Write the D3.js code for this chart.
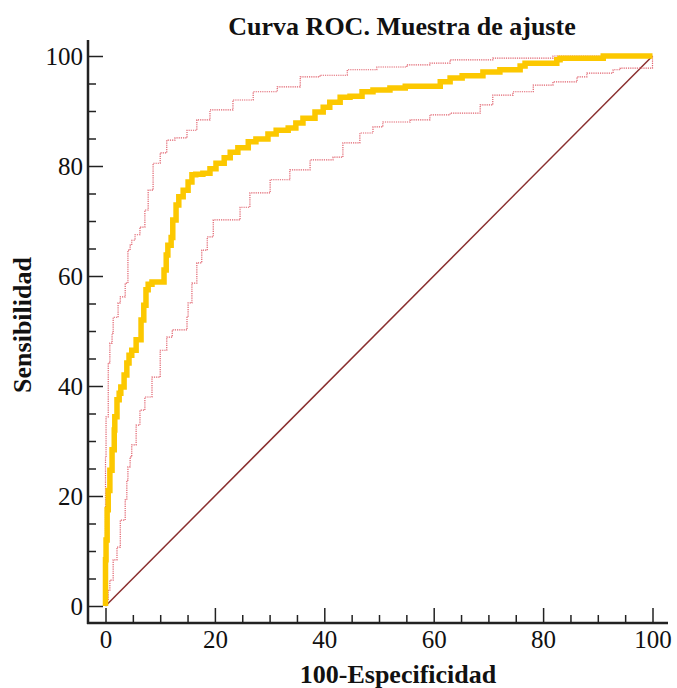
<!doctype html>
<html lang="es">

<head>
  <meta charset="utf-8">
  <title>Curva ROC. Muestra de ajuste</title>
  <style>
    body {
      margin: 0;
      background: #fff;
    }

    #chart text {
      font-family: "Liberation Serif", "Times New Roman", serif;
      fill: #111;
    }

    .tick text {
      font-size: 25px;
    }

    .titulo {
      font-size: 26px;
      font-weight: bold;
    }
  </style>
</head>

<body>
  <div id="chart"></div>

  <script src="https://d3js.org/d3.v7.min.js"></script>
  <script>
// curva ROC (100-especificidad, sensibilidad)
const rocX = [0, 0.1, 0.3, 0.5, 0.8, 1.2, 1.6, 1.7, 2.1, 2.5, 2.8, 3.4, 3.9, 4.3, 4.8, 5.6, 6.5, 7.0, 7.4, 7.8,
  8.5, 9.6, 10.7, 11.1, 11.4, 12.0, 12.3, 12.9, 13.4, 14.2, 15.1, 15.8, 16.5, 17.8, 19.1, 20.2, 21.7, 22.8, 24.2,
  26.1, 27.5, 29.7, 31.2, 33.4, 34.8, 36.1, 38.3, 39.8, 41.0, 42.9, 44.7, 46.9, 48.9, 52.0, 54.8, 57.5, 61.2,
  63.0, 65.2, 69.0, 72.1, 75.8, 76.7, 82.5, 83.1, 91.0, 91.3, 100];
const rocY = [0, 8.4, 12, 17.5, 21, 24.7, 28.4, 32, 34.4, 37.5, 38.7, 39.8, 42, 44.2, 45.6, 46.5, 48.4, 52, 54.7, 57.5,
  58.5, 58.9, 58.9, 61.1, 63.8, 65.6, 67, 70.2, 72.9, 74.4, 75.6, 77.1, 78.4, 78.5, 78.7, 79.5, 80.5, 81.5, 82.5,
  83.3, 84.4, 84.9, 85.8, 86.5, 86.9, 87.8, 88.7, 89.8, 90.7, 91.6, 92.5, 92.7, 93.5, 93.8, 94.2, 94.5, 94.5,
  95.3, 96.0, 96.4, 97.1, 97.5, 98.2, 98.7, 99.3, 99.6, 100, 100];

// limite superior del intervalo de confianza
const supX = [0, 0, 0.1, 0.5, 0.8, 1.2, 1.4, 2.3, 2.7, 3.6, 4.1, 4.5, 4.8, 5.4, 6.3, 7.2, 7.8, 8.7, 10.0, 11.2,
  12.7, 14.9, 16.7, 19.1, 23.3, 27.0, 31.4, 35.6, 39.2, 44.2, 49.6, 55.1, 59.3, 63.0, 70.8, 81.8, 91.0, 100];
const supY = [0, 22.9, 27.1, 34.4, 44.2, 47.8, 49.6, 52.5, 55.1, 56.2, 58.7, 64.7, 65.6, 66.5, 67.5, 68.9, 72, 75.6,
  80.5, 82.4, 84.7, 85.1, 86.5, 88.4, 90.2, 92, 93.5, 94.4, 96.2, 96.5, 97.5, 98, 98.4, 98.7, 99.3, 99.6, 100, 100];

// limite inferior del intervalo de confianza
const infX = [0, 0.5, 0.8, 1.4, 2.1, 2.7, 3.6, 3.9, 4.1, 4.5, 4.8, 5.6, 6.3, 7.2, 8.5, 10.0, 11.2, 12.2, 14.9, 15.1,
  15.8, 16.7, 17.6, 18.6, 19.7, 21.5, 24.6, 26.4, 30.1, 33.7, 37.4, 41.6, 43.4, 46.5, 48.9, 50.7, 55.7, 59.3,
  63.0, 68.5, 70.8, 74.5, 78.2, 81.8, 86.2, 88.0, 92.8, 94.1, 100, 100];
const infY = [0, 1.1, 2.9, 4.7, 8.4, 10.7, 15.6, 19.3, 22.9, 25.3, 27.1, 29.3, 32.9, 35.6, 38, 41.6, 46.5, 48.9, 50.2,
  52.5, 55.1, 58.7, 62.4, 64.7, 67.1, 70.2, 70.2, 72.5, 75.1, 77.5, 79.3, 81.1, 81.6, 84.2, 86, 87.1, 88, 88.4,
  89.3, 89.6, 91.1, 92.9, 93.5, 94.7, 95.3, 96.2, 96.9, 97.5, 97.8, 100];

// diagonal de referencia
const diagX = [0, 100];
const diagY = [0, 100];

const majorTicks = [0, 20, 40, 60, 80, 100];
const minorTicks = d3.range(0, 101, 5).filter(v => v % 20 !== 0);

const width = 677;
const height = 688;

const svg = d3.select('#chart') // el svg ocupa toda la ventana
  .append('svg')
  .attr('width', width)
  .attr('height', height);

const x = d3.scaleLinear().domain([0, 100]).range([105.5, 652.5]);
const y = d3.scaleLinear().domain([0, 100]).range([606, 56]);

const axisX = 88;   // posicion de la linea del eje vertical
const axisY = 623;  // posicion de la linea del eje horizontal

// diagonal
svg.append('path')
  .datum(d3.zip(diagX, diagY))
  .attr('d', d3.line().x(d => x(d[0])).y(d => y(d[1])))
  .attr('fill', 'none')
  .attr('stroke', '#8a2f2f')
  .attr('stroke-width', 1.5);

const stepLine = d3.line()
  .x(d => x(d[0]))
  .y(d => y(d[1]))
  .curve(d3.curveStepBefore);

// bandas de confianza punteadas
[[supX, supY], [infX, infY]].forEach(([xs, ys]) => {
  svg.append('path')
    .datum(d3.zip(xs, ys))
    .attr('d', stepLine)
    .attr('fill', 'none')
    .attr('stroke', '#e0606c')
    .attr('stroke-width', 1.2)
    .attr('stroke-dasharray', '1.2 1');
});

// curva ROC
svg.append('path')
  .datum(d3.zip(rocX, rocY))
  .attr('d', stepLine)
  .attr('fill', 'none')
  .attr('stroke', '#fcc800')
  .attr('stroke-width', 5.5)
  .attr('stroke-linejoin', 'miter');

// ejes: marcas principales hacia dentro
svg.append('g')
  .attr('transform', `translate(${axisX},0)`)
  .call(d3.axisLeft(y).tickValues(majorTicks).tickSize(-15).tickPadding(5));

svg.append('g')
  .attr('transform', `translate(${axisX},0)`)
  .call(d3.axisLeft(y).tickValues(minorTicks).tickSize(-8).tickFormat(''));

svg.append('g')
  .attr('transform', `translate(0,${axisY})`)
  .call(d3.axisBottom(x).tickValues(majorTicks).tickSize(-15).tickPadding(7));

svg.append('g')
  .attr('transform', `translate(0,${axisY})`)
  .call(d3.axisBottom(x).tickValues(minorTicks).tickSize(-8).tickFormat(''));

svg.selectAll('.domain').remove();
svg.selectAll('.tick line').attr('stroke', '#222').attr('stroke-width', 1.5);
svg.selectAll('.tick text').attr('font-family', null).attr('font-size', null);

// lineas de los ejes
svg.append('line')
  .attr('x1', axisX).attr('x2', axisX)
  .attr('y1', 40).attr('y2', axisY + 1)
  .attr('stroke', '#222').attr('stroke-width', 2.5);

svg.append('line')
  .attr('x1', axisX - 1).attr('x2', 668)
  .attr('y1', axisY).attr('y2', axisY)
  .attr('stroke', '#222').attr('stroke-width', 2.5);

// titulos
svg.append('text')
  .attr('class', 'titulo')
  .attr('x', 402)
  .attr('y', 35)
  .attr('text-anchor', 'middle')
  .text('Curva ROC. Muestra de ajuste');

svg.append('text')
  .attr('class', 'titulo')
  .attr('x', 398)
  .attr('y', 683)
  .attr('text-anchor', 'middle')
  .text('100-Especificidad');

svg.append('text')
  .attr('class', 'titulo')
  .attr('transform', 'translate(31,325) rotate(-90)')
  .attr('text-anchor', 'middle')
  .text('Sensibilidad');
  </script>
</body>

</html>
